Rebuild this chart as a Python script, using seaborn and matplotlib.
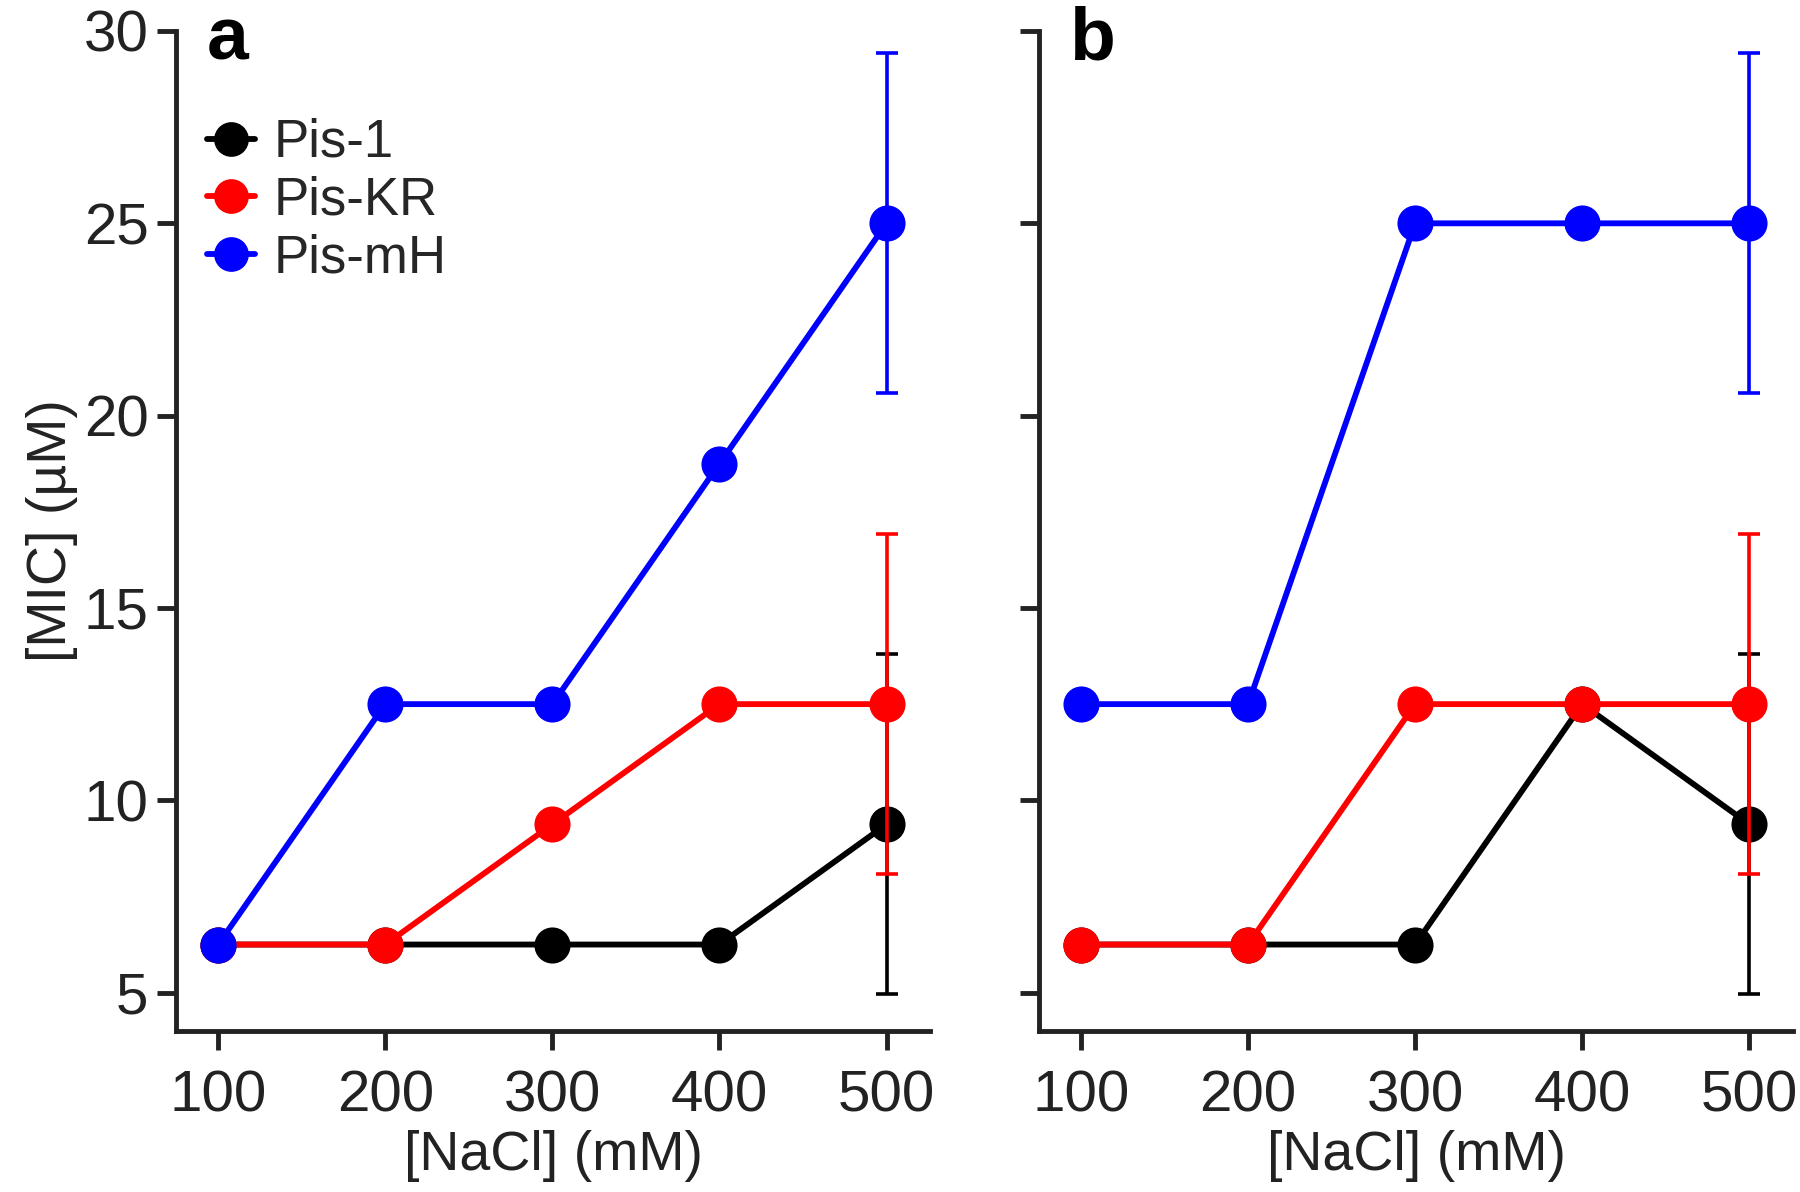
import numpy as np
import pandas as pd
import matplotlib
matplotlib.use("Agg")
import matplotlib.pyplot as plt
import seaborn as sns

nacl = [100, 200, 300, 400, 500]
peptides = ["Pis-1", "Pis-KR", "Pis-mH"]
colors = {"Pis-1": "#000000", "Pis-KR": "#ff0000", "Pis-mH": "#0000ff"}

# panel a
mic_a = {
    "Pis-1": [6.25, 6.25, 6.25, 6.25, 9.375],
    "Pis-KR": [6.25, 6.25, 9.375, 12.5, 12.5],
    "Pis-mH": [6.25, 12.5, 12.5, 18.75, 25.0],
}
# panel b
mic_b = {
    "Pis-1": [6.25, 6.25, 6.25, 12.5, 9.375],
    "Pis-KR": [6.25, 6.25, 12.5, 12.5, 12.5],
    "Pis-mH": [12.5, 12.5, 25.0, 25.0, 25.0],
}
# error only at 500 mM
err = [0, 0, 0, 0, 4.42]

sns.set_theme(style="ticks")
plt.rcParams["font.family"] = ["Liberation Sans", "DejaVu Sans"]
plt.rcParams["axes.edgecolor"] = "#222222"
plt.rcParams["xtick.color"] = "#222222"
plt.rcParams["ytick.color"] = "#222222"

fig, axes = plt.subplots(1, 2, figsize=(18, 11.92), dpi=100, sharey=True)
fig.subplots_adjust(left=0.098, right=0.996, bottom=0.135, top=0.974, wspace=0.145)

for ax, data, lab in zip(axes, [mic_a, mic_b], ["a", "b"]):
    rows = []
    for p in peptides:
        for x, y in zip(nacl, data[p]):
            rows.append({"NaCl": x, "MIC": y, "peptide": p})
    df = pd.DataFrame(rows)
    for i, p in enumerate(peptides):
        sub = df[df.peptide == p]
        sns.lineplot(data=sub, x="NaCl", y="MIC", color=colors[p], ax=ax,
                     marker="o", markersize=26, markeredgewidth=0, linewidth=4.2,
                     label=p, zorder=3 + i, legend=False)
        e = np.array(err)
        m = e > 0
        ax.errorbar(np.array(nacl)[m], np.array(data[p])[m], yerr=e[m], fmt="none",
                    ecolor=colors[p], elinewidth=2.6, capsize=8, capthick=2.6,
                    zorder=3 + i)
    ax.set_xlim(75, 526)
    ax.set_ylim(4.0, 30)
    ax.set_xticks(nacl)
    ax.set_yticks([5, 10, 15, 20, 25, 30])
    ax.set_xlabel("[NaCl] (mM)", fontsize=40, color="#222222", labelpad=4)
    ax.tick_params(axis="both", labelsize=42, width=3.5, length=14, pad=6)
    ax.tick_params(axis="x", pad=14)
    for s in ["left", "bottom"]:
        ax.spines[s].set_linewidth(3.5)
    sns.despine(ax=ax)
    ax.text(0.04, 1.025, lab, transform=ax.transAxes, fontsize=54,
            fontweight="bold", va="top", ha="left", color="#000000")

axes[0].set_ylabel("[MIC] (\u00b5M)", fontsize=40, color="#222222", labelpad=4)
axes[1].set_ylabel("")
axes[1].tick_params(axis="y", labelleft=False)

leg = axes[0].legend(loc="upper left", bbox_to_anchor=(0.041, 0.913), frameon=False,
                     fontsize=38, handlelength=0.9, handletextpad=0.35,
                     labelspacing=0.15, borderaxespad=0, borderpad=0)
for h in leg.legend_handles:
    h.set_markersize(25)

fig.savefig("out.png", dpi=100)
